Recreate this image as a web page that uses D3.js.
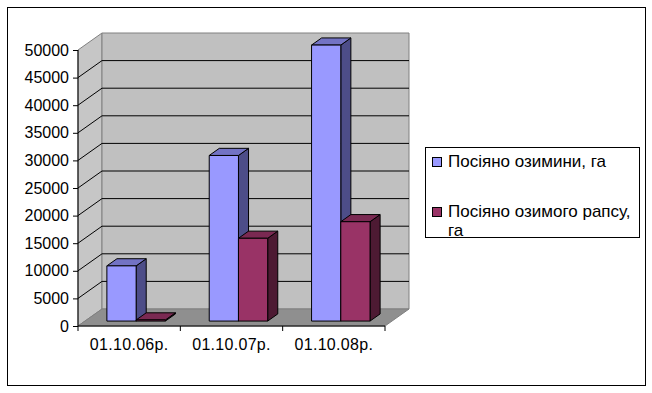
<!DOCTYPE html>
<html><head><meta charset="utf-8">
<script src="https://cdn.jsdelivr.net/npm/d3@7"></script>
<style>html,body{margin:0;padding:0;background:#fff;}svg{display:block;}</style>
</head><body>
<svg id="c" width="652" height="393"></svg>
<script>
const categories = ["01.10.06р.", "01.10.07р.", "01.10.08р."];
const seriesNames = ["Посіяно озимини, га", "Посіяно озимого рапсу, га"];
const winterCrops = [10000, 30000, 50000];
const rapeseed = [200, 15000, 18000];
const yTicks = [0, 5000, 10000, 15000, 20000, 25000, 30000, 35000, 40000, 45000, 50000];

const colors = [
  {front: "#9999FF", top: "#7373C4", side: "#4D4D88"},
  {front: "#993366", top: "#7A2952", side: "#4D1A33"}
];
const seriesValues = [winterCrops, rapeseed];

const svg = d3.select("#c");
const font = "Liberation Sans, Arial, sans-serif";

// outer border
svg.append("rect").attr("x", 7.5).attr("y", 7.5).attr("width", 638).attr("height", 378)
  .attr("fill", "#fff").attr("stroke", "#000").attr("stroke-width", 1);

const X0 = 78, X1 = 385, DX = 24, DY = 17;
const y = d3.scaleLinear().domain([0, 50000]).range([326, 50]);
const x = d3.scaleBand().domain(categories).range([X0, X1]).padding(0);
const xs = d3.scaleBand().domain([0, 1]).range([0, x.bandwidth()]).paddingInner(0).paddingOuter(0.75);

const P = (px, py, f) => [px + DX * f, py - DY * f];
const poly = pts => pts.map(p => p.join(",")).join(" ");

// walls
svg.append("polygon").attr("points", poly([P(X0, y(0), 0), P(X0, y(50000), 0), P(X0, y(50000), 1), P(X0, y(0), 1)]))
  .attr("fill", "#c6c6c6").attr("stroke", "#808080");
svg.append("polygon").attr("points", poly([P(X0, y(50000), 1), P(X1, y(50000), 1), P(X1, y(0), 1), P(X0, y(0), 1)]))
  .attr("fill", "#c0c0c0").attr("stroke", "#808080");
svg.append("polygon").attr("points", poly([P(X0, y(0), 0), P(X1, y(0), 0), P(X1, y(0), 1), P(X0, y(0), 1)]))
  .attr("fill", "#8f8f8f").attr("stroke", "#808080");

// gridlines
yTicks.filter(v => v > 0 && v < 50000).forEach(v => {
  const a = P(X0, y(v), 0), b = P(X0, y(v), 1), c = P(X1, y(v), 1);
  svg.append("polyline").attr("points", poly([a, b, c])).attr("fill", "none").attr("stroke", "#000").attr("stroke-width", 1);
});

// axes
const yAxis = d3.axisLeft(y).tickValues(yTicks).tickSize(5).tickFormat(d3.format("d"));
const gy = svg.append("g").attr("transform", `translate(${X0},0)`).call(yAxis);
gy.selectAll("text").attr("font-family", font).attr("font-size", 16).attr("fill", "#000").attr("dx", -1);
gy.selectAll("line,path").attr("stroke", "#000");
gy.select(".domain").attr("d", `M0,${y(0)}V${y(50000)}`);

const gx = svg.append("g").attr("transform", `translate(0,${y(0)})`);
gx.append("line").attr("x1", X0).attr("x2", X1).attr("stroke", "#000");
[...categories.map(c => x(c)), X1].forEach(px => {
  gx.append("line").attr("x1", px).attr("x2", px).attr("y1", 0).attr("y2", 5).attr("stroke", "#000");
});
categories.forEach(c => {
  gx.append("text").attr("x", x(c) + x.bandwidth() / 2).attr("y", 24).attr("text-anchor", "middle")
    .attr("font-family", font).attr("font-size", 16).attr("letter-spacing", 0.3).text(c);
});

// bars
const f0 = 0.29, f1 = 0.71;
categories.forEach((c, ci) => {
  seriesValues.forEach((vals, si) => {
    const v = vals[ci];
    const xa = x(c) + xs(si), xb = xa + xs.bandwidth();
    const col = colors[si];
    const A = P(xa, y(v), f0), B = P(xb, y(v), f0), C = P(xb, y(0), f0), D = P(xa, y(0), f0);
    const B2 = P(xb, y(v), f1), A2 = P(xa, y(v), f1), C2 = P(xb, y(0), f1);
    const g = svg.append("g").attr("stroke", "#000").attr("stroke-width", 1).attr("stroke-linejoin", "round");
    g.append("polygon").attr("points", poly([B, B2, C2, C])).attr("fill", col.side);
    g.append("polygon").attr("points", poly([A, B, B2, A2])).attr("fill", col.top);
    g.append("polygon").attr("points", poly([A, B, C, D])).attr("fill", col.front);
  });
});

// legend
svg.append("rect").attr("x", 425.5).attr("y", 147.5).attr("width", 214).attr("height", 90)
  .attr("fill", "#fff").attr("stroke", "#000");
const legendLines = [["Посіяно озимини, га"], ["Посіяно озимого рапсу,", "га"]];
const legendY = [167, 217];
legendLines.forEach((lines, i) => {
  svg.append("rect").attr("x", 432.5).attr("y", legendY[i] - 9.5).attr("width", 9).attr("height", 9)
    .attr("fill", colors[i].front).attr("stroke", "#000");
  lines.forEach((t, j) => {
    svg.append("text").attr("x", 448).attr("y", legendY[i] + j * 19)
      .attr("font-family", font).attr("font-size", 17).text(t);
  });
});
</script>
</body></html>
